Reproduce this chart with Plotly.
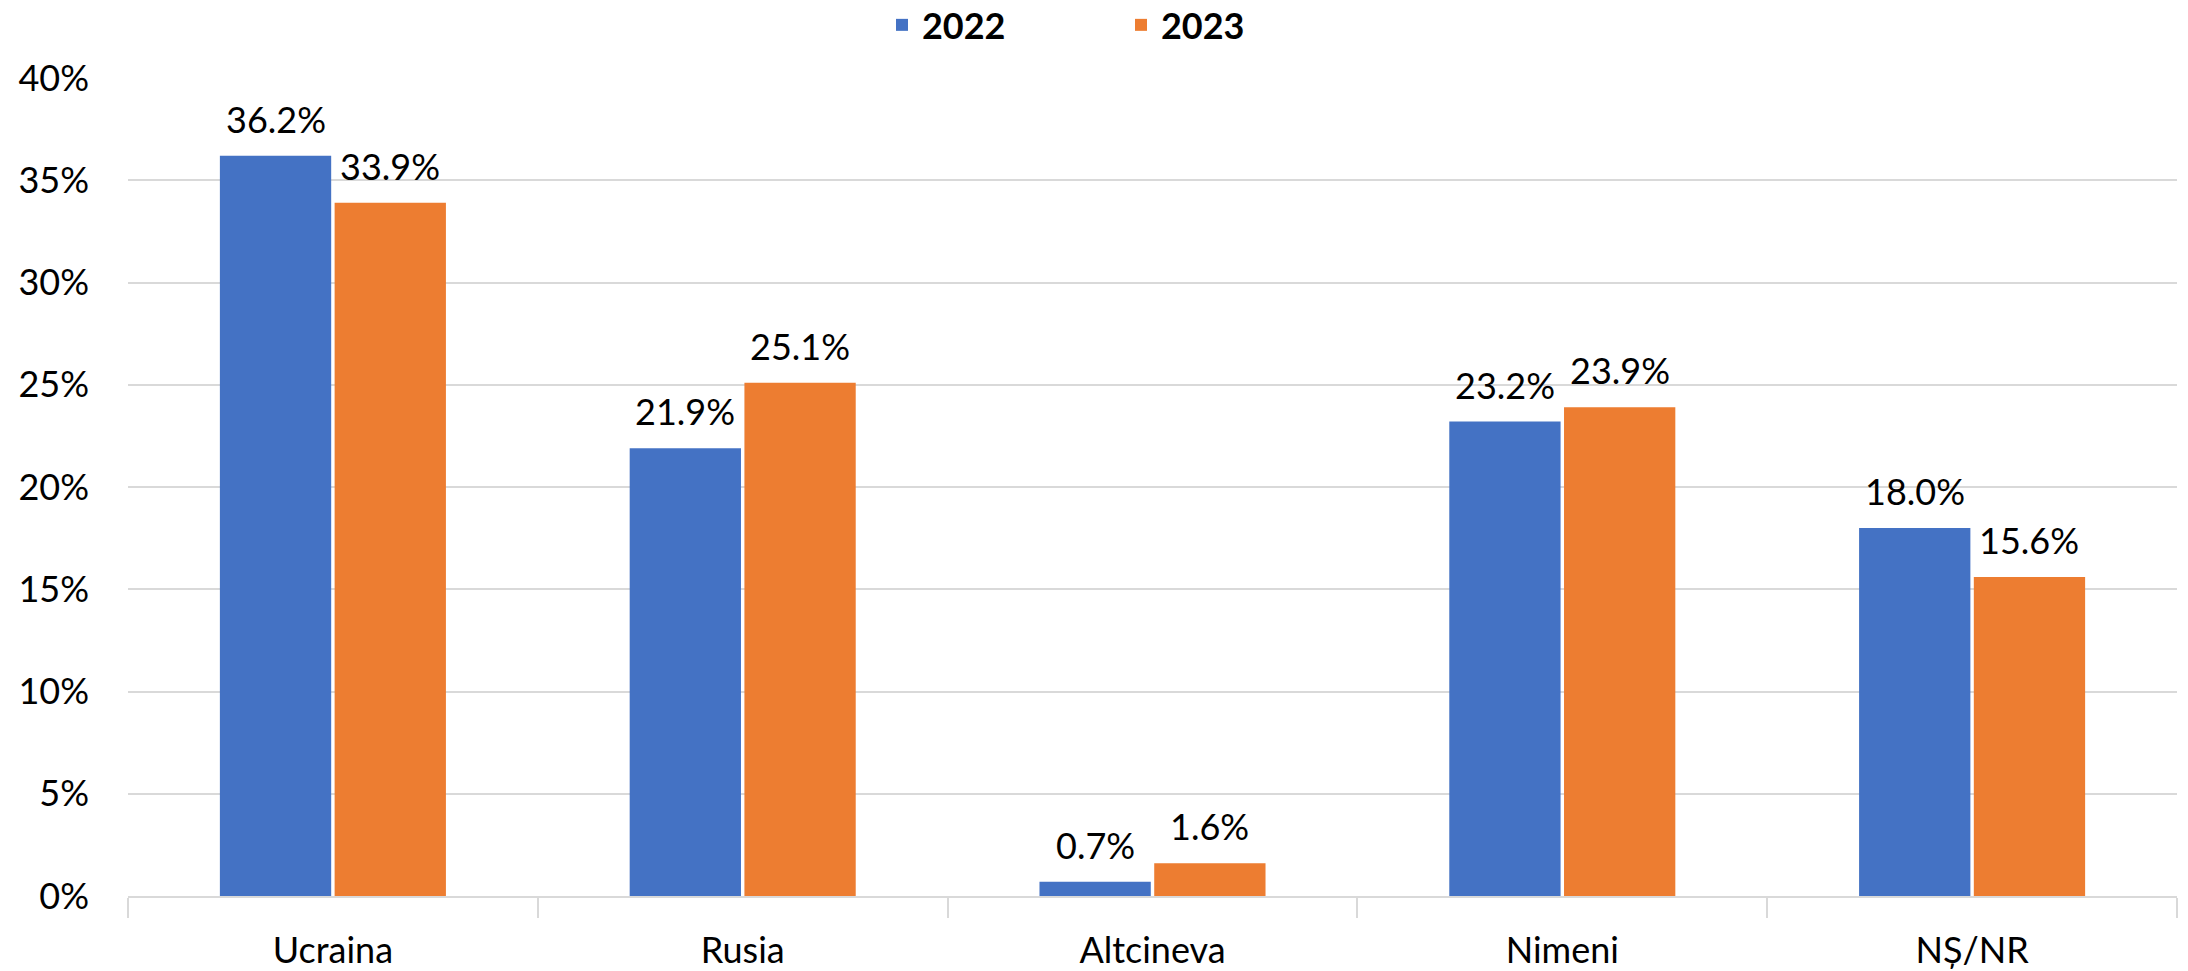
import plotly.graph_objects as go

categories = ["Ucraina", "Rusia", "Altcineva", "Nimeni", "NȘ/NR"]
values_2022 = [36.2, 21.9, 0.7, 23.2, 18.0]
values_2023 = [33.9, 25.1, 1.6, 23.9, 15.6]
series_names = ["2022", "2023"]
tick_vals = [0, 5, 10, 15, 20, 25, 30, 35, 40]
tick_text = ["0%", "5%", "10%", "15%", "20%", "25%", "30%", "35%", "40%"]

FONT = "Lato, Calibri, 'Open Sans', sans-serif"
colors = ["#4472C4", "#ED7D31"]

W, H = 2188, 971
ML, MR, MT, MB = 128, 11, 78, 75
BARGAP = 0.44

fig = go.Figure()
for name, vals, col in zip(series_names, [values_2022, values_2023], colors):
    fig.add_trace(go.Bar(
        x=categories, y=vals, name=name,
        marker=dict(color=col, line=dict(width=0)),
        cliponaxis=False,
    ))

# data labels placed above bars, offset to each bar of the group
plot_w = W - ML - MR
cat_w = plot_w / len(categories)
bar_slot = cat_w * (1 - BARGAP) / 2
for i, vals in enumerate([values_2022, values_2023]):
    for cat, v in zip(categories, vals):
        fig.add_annotation(
            x=cat, y=v, xref="x", yref="y",
            text=f"{v:.1f}%", showarrow=False,
            xanchor="center", yanchor="bottom",
            xshift=(i - 0.5) * bar_slot, yshift=13,
            font=dict(family=FONT, size=36, color="#000000"),
        )

fig.update_layout(
    width=W, height=H,
    margin=dict(l=ML, r=MR, t=MT, b=MB),
    paper_bgcolor="white", plot_bgcolor="white",
    barmode="group", bargap=BARGAP, bargroupgap=0.03,
    font=dict(family=FONT, size=36, color="#000000"),
    showlegend=True,
    legend=dict(
        orientation="h", xref="container", yref="container",
        x=0.4031, xanchor="left", y=0.9743, yanchor="middle",
        font=dict(family=FONT, size=36, color="#000000", weight="bold"),
        entrywidth=194, entrywidthmode="pixels",
        bgcolor="rgba(0,0,0,0)",
    ),
)
fig.update_yaxes(
    range=[0, 40], tickvals=tick_vals, ticktext=tick_text,
    showgrid=True, gridcolor="#D9D9D9", gridwidth=2,
    zeroline=False, showline=False, ticks="",
    ticklabelstandoff=38, automargin=False,
    tickfont=dict(family=FONT, size=36, color="#000000"),
)
fig.update_xaxes(
    type="category", automargin=False,
    showline=True, linecolor="#D9D9D9", linewidth=2,
    ticks="outside", tickson="boundaries", ticklen=20, tickcolor="#D9D9D9", tickwidth=2,
    ticklabelstandoff=22,
    tickfont=dict(family=FONT, size=36, color="#000000"),
)

fig.write_html(
    "out.html",
    config={"displayModeBar": False},
    post_script="document.body.style.margin='0px';",
)
